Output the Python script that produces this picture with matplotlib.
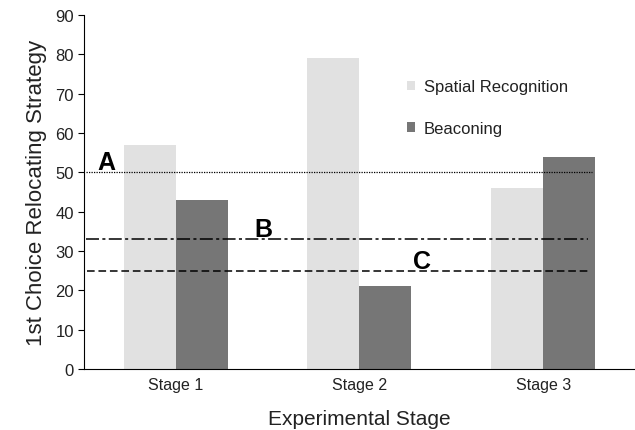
import numpy as np
import matplotlib.pyplot as plt

plt.rcParams['font.family'] = ['Liberation Sans', 'DejaVu Sans']

stages = ['Stage 1', 'Stage 2', 'Stage 3']
spatial = [57, 79, 46]
beaconing = [43, 21, 54]
chance_a = 50
chance_b = 33
chance_c = 25

fig = plt.figure(figsize=(6.35, 4.31), dpi=100)
ax = fig.add_axes([0.132, 0.1415, 0.868, 0.8215])

x = np.arange(len(stages))
w = 0.283
ax.bar(x - w / 2, spatial, w, color='#e1e1e1', label='Spatial Recognition')
ax.bar(x + w / 2, beaconing, w, color='#767676', label='Beaconing')

# reference lines A, B, C
ax.plot([-0.49, 2.266], [chance_a, chance_a], color='black', ls=(0, (1, 1)), lw=0.9)
ax.plot([-0.49, 2.245], [chance_b, chance_b], color='black', ls=(0, (8.5, 2.2, 2, 2.2)), lw=1.1)
ax.plot([-0.48, 2.255], [chance_c, chance_c], color='black', ls=(0, (5, 2.5)), lw=1.1)

ax.text(-0.425, 50.9, 'A', fontsize=18, fontweight='bold', ha='left', va='baseline')
ax.text(0.43, 33.8, 'B', fontsize=18, fontweight='bold', ha='left', va='baseline')
ax.text(1.29, 25.8, 'C', fontsize=18, fontweight='bold', ha='left', va='baseline')

ax.set_xlim(-0.5, 2.5)
ax.set_ylim(0, 90)
ax.set_yticks(range(0, 91, 10))
ax.set_xticks(x)
ax.set_xticklabels(stages)
ax.tick_params(axis='x', length=0, labelsize=11.5, pad=6, labelcolor='#222222')
ax.tick_params(axis='y', length=4, labelsize=12, pad=3, labelcolor='#222222')

ax.spines['top'].set_visible(False)
ax.spines['right'].set_visible(False)

ax.set_ylabel('1st Choice Relocating Strategy', fontsize=16, color='#222222', labelpad=6)
ax.set_xlabel('Experimental Stage', fontsize=15, color='#222222', labelpad=12)

ax.legend(loc='upper left', bbox_to_anchor=(1.26, 73.6), bbox_transform=ax.transData,
          frameon=False, fontsize=12, borderpad=0, borderaxespad=0,
          handlelength=0.48, handleheight=0.48, handletextpad=0.5, labelspacing=1.58,
          labelcolor='#222222')

fig.savefig('out.png', dpi=100)
